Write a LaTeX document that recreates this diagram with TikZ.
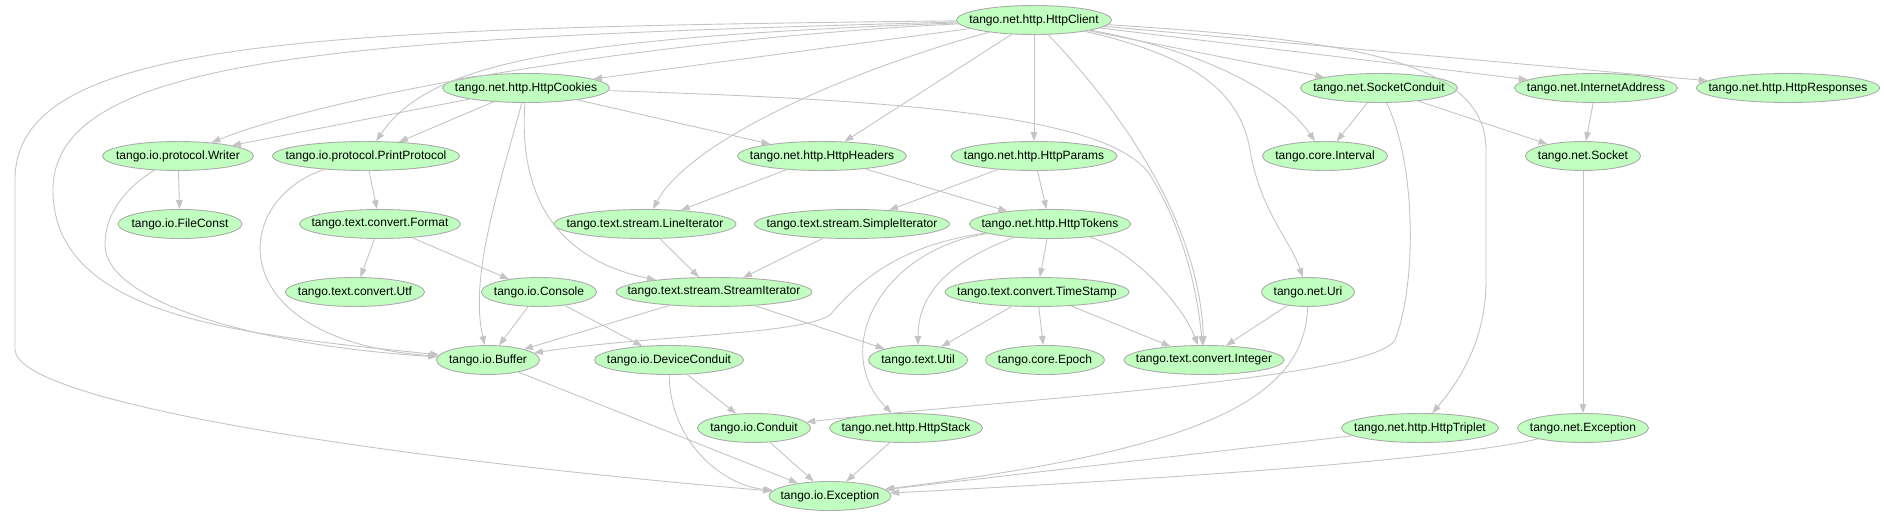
\documentclass[tikz,border=0pt]{standalone}
\usepackage{fontspec}
\setmainfont{Liberation Sans}
\usepackage{tikz}
\usetikzlibrary{arrows.meta,shapes.geometric}
\definecolor{mint}{HTML}{C0FFC0}
\definecolor{rim}{HTML}{ABABAB}
\definecolor{wire}{HTML}{C4C4C4}
\tikzset{pkg/.style={ellipse,draw=rim,fill=mint,line width=.9pt,minimum height=29pt,inner xsep=-20pt,inner ysep=0pt,font=\fontsize{12}{14}\selectfont,text=black}, dep/.style={draw=wire,line width=.9pt,-{Triangle[length=9pt,width=6.5pt]}}}
\begin{document}
\begin{tikzpicture}[x=1pt,y=-1pt]
\useasboundingbox (0,0) rectangle (1884,516);
\node[pkg,minimum width=155pt] (client) at (1034,20) {tango.net.http.HttpClient};
\node[pkg,minimum width=167pt] (cookies) at (526,88) {tango.net.http.HttpCookies};
\node[pkg,minimum width=157pt] (sockcond) at (1379,88) {tango.net.SocketConduit};
\node[pkg,minimum width=163pt] (inetaddr) at (1596,88) {tango.net.InternetAddress};
\node[pkg,minimum width=183pt] (responses) at (1788,88) {tango.net.http.HttpResponses};
\node[pkg,minimum width=151pt] (writer) at (178,156) {tango.io.protocol.Writer};
\node[pkg,minimum width=187pt] (printproto) at (366,156) {tango.io.protocol.PrintProtocol};
\node[pkg,minimum width=169pt] (headers) at (822,156) {tango.net.http.HttpHeaders};
\node[pkg,minimum width=166pt] (params) at (1034,156) {tango.net.http.HttpParams};
\node[pkg,minimum width=125pt] (interval) at (1325,156) {tango.core.Interval};
\node[pkg,minimum width=115pt] (socket) at (1583,156) {tango.net.Socket};
\node[pkg,minimum width=124pt] (fileconst) at (180,224) {tango.io.FileConst};
\node[pkg,minimum width=161pt] (format) at (380,224) {tango.text.convert.Format};
\node[pkg,minimum width=182pt] (lineiter) at (645,224) {tango.text.stream.LineIterator};
\node[pkg,minimum width=195pt] (simpleiter) at (852,224) {tango.text.stream.SimpleIterator};
\node[pkg,minimum width=161pt] (tokens) at (1050,224) {tango.net.http.HttpTokens};
\node[pkg,minimum width=139pt] (utf) at (355,292) {tango.text.convert.Utf};
\node[pkg,minimum width=115pt] (console) at (539,292) {tango.io.Console};
\node[pkg,minimum width=196pt] (streamiter) at (714,292) {tango.text.stream.StreamIterator};
\node[pkg,minimum width=184pt] (timestamp) at (1037,292) {tango.text.convert.TimeStamp};
\node[pkg,minimum width=93pt] (uri) at (1308,292) {tango.net.Uri};
\node[pkg,minimum width=103pt] (buffer) at (488,360) {tango.io.Buffer};
\node[pkg,minimum width=149pt] (devcond) at (669,360) {tango.io.DeviceConduit};
\node[pkg,minimum width=99pt] (util) at (918,360) {tango.text.Util};
\node[pkg,minimum width=119pt] (epoch) at (1045,360) {tango.core.Epoch};
\node[pkg,minimum width=160pt] (integer) at (1204,360) {tango.text.convert.Integer};
\node[pkg,minimum width=113pt] (conduit) at (754,428) {tango.io.Conduit};
\node[pkg,minimum width=153pt] (httpstack) at (906,428) {tango.net.http.HttpStack};
\node[pkg,minimum width=157pt] (triplet) at (1420,428) {tango.net.http.HttpTriplet};
\node[pkg,minimum width=131pt] (netexc) at (1583,428) {tango.net.Exception};
\node[pkg,minimum width=122pt] (ioexc) at (830,496) {tango.io.Exception};
\foreach \a/\b in {client/cookies,client/headers,client/params,client/sockcond,client/inetaddr,client/responses,
 cookies/writer,cookies/printproto,cookies/headers,writer/fileconst,printproto/format,format/utf,format/console,
 headers/lineiter,headers/tokens,params/simpleiter,params/tokens,lineiter/streamiter,simpleiter/streamiter,tokens/timestamp,
 console/buffer,console/devcond,streamiter/buffer,streamiter/util,timestamp/util,timestamp/epoch,timestamp/integer,uri/integer,
 sockcond/interval,sockcond/socket,inetaddr/socket,socket/netexc,buffer/ioexc,devcond/conduit,conduit/ioexc,httpstack/ioexc,triplet/ioexc}
 \draw[dep] (\a) -- (\b);
\draw[dep] (client) .. controls (850,70) and (690,140) .. (lineiter);
\draw[dep] (client) .. controls (640,40) and (330,95) .. (writer);
\draw[dep] (client) .. controls (560,38) and (430,62) .. (printproto);
\draw[dep] (client) .. controls (350,38) and (53,55) .. (53,190) .. controls (53,320) and (250,335) .. (buffer);
\draw[dep] (client) .. controls (300,28) and (15,40) .. (15,180) -- (15,350) .. controls (18,400) and (350,455) .. (ioexc);
\draw[dep] (client) .. controls (1200,50) and (1280,90) .. (interval);
\draw[dep] (client) .. controls (1190,55) and (1240,90) .. (1250,150) .. controls (1260,210) and (1290,240) .. (uri);
\draw[dep] (client) .. controls (1130,120) and (1200,230) .. (integer);
\draw[dep] (client) .. controls (1350,40) and (1486,60) .. (1486,150) -- (1486,280) .. controls (1486,340) and (1460,380) .. (triplet);
\draw[dep] (cookies) .. controls (900,100) and (1110,115) .. (1150,175) .. controls (1175,215) and (1195,270) .. (integer);
\draw[dep] (cookies) .. controls (495,200) and (470,280) .. (buffer);
\draw[dep] (cookies) .. controls (518,200) and (560,260) .. (streamiter);
\draw[dep] (writer) .. controls (130,185) and (105,210) .. (105,245) .. controls (105,300) and (250,345) .. (buffer);
\draw[dep] (printproto) .. controls (230,200) and (220,340) .. (buffer);
\draw[dep] (tokens) .. controls (900,245) and (860,280) .. (830,315) .. controls (800,335) and (650,335) .. (buffer);
\draw[dep] (tokens) .. controls (940,265) and (918,300) .. (util);
\draw[dep] (tokens) .. controls (880,250) and (830,350) .. (httpstack);
\draw[dep] (tokens) .. controls (1130,250) and (1180,300) .. (integer);
\draw[dep] (sockcond) .. controls (1415,160) and (1418,280) .. (1395,340) .. controls (1370,380) and (1000,400) .. (conduit);
\draw[dep] (uri) .. controls (1305,400) and (1200,450) .. (ioexc);
\draw[dep] (netexc) .. controls (1450,460) and (1150,480) .. (ioexc);
\draw[dep] (devcond) .. controls (670,440) and (720,485) .. (ioexc);
\end{tikzpicture}
\end{document}
